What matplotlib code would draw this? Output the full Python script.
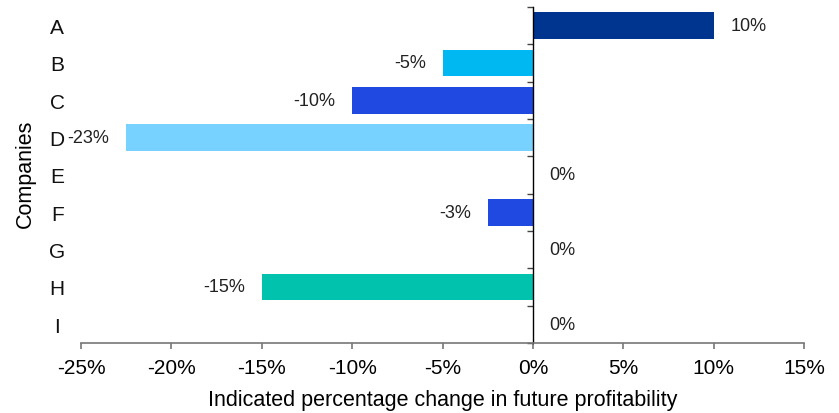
import matplotlib
matplotlib.use("Agg")
import matplotlib.pyplot as plt
import matplotlib.transforms as mtransforms

plt.rcParams['font.family'] = ['Liberation Sans', 'DejaVu Sans']

companies = ['A', 'B', 'C', 'D', 'E', 'F', 'G', 'H', 'I']
values = [10, -5, -10, -22.5, 0, -2.5, 0, -15, 0]
labels = ['10%', '-5%', '-10%', '-23%', '0%', '-3%', '0%', '-15%', '0%']
colors = ['#00358F', '#00B8F1', '#1F49E1', '#77D2FF', '#1F49E1',
          '#1F49E1', '#1F49E1', '#00C2AD', '#1F49E1']
xticks = [-25, -20, -15, -10, -5, 0, 5, 10, 15]

fig = plt.figure(figsize=(8.39, 4.14), dpi=100)
ax = fig.add_axes([81 / 839, 70 / 414, 723 / 839, 336 / 414])

ypos = list(range(len(companies)))
ax.barh(ypos, values, height=0.72, color=colors)

ax.set_xlim(-25, 15)
ax.set_ylim(len(companies) - 0.5, -0.5)

# value labels, offset a fixed number of points from the bar end
for y, v, lab in zip(ypos, values, labels):
    if v >= 0:
        ax.annotate(lab, (v, y), xytext=(12, 0), textcoords='offset points',
                    ha='left', va='center', fontsize=13, color='#222222')
    else:
        ax.annotate(lab, (v, y), xytext=(-12, 0), textcoords='offset points',
                    ha='right', va='center', fontsize=13, color='#222222')

# category labels sit far to the left, away from the spine at zero
trans = mtransforms.blended_transform_factory(ax.transAxes, ax.transData)
for y, c in zip(ypos, companies):
    ax.text(-0.033, y + 0.05, c, transform=trans, ha='center', va='center',
            fontsize=15, color='#111111')

for s in ['top', 'right']:
    ax.spines[s].set_visible(False)
ax.spines['left'].set_position(('data', 0))
ax.spines['left'].set_color('black')
ax.spines['left'].set_linewidth(1.0)
ax.spines['bottom'].set_color('#777777')
ax.spines['bottom'].set_linewidth(1.2)

ax.set_yticks([i - 0.5 for i in range(len(companies) + 1)])
ax.set_yticklabels([])
ax.tick_params(axis='y', direction='out', length=4.5, color='#444444', width=1)

ax.set_xticks(xticks)
ax.set_xticklabels([f'{t}%' for t in xticks], fontsize=15)
ax.tick_params(axis='x', direction='out', length=4.5, color='#777777', width=1.2,
               pad=6)

ax.set_xlabel('Indicated percentage change in future profitability',
              fontsize=15.5, labelpad=9)
fig.text(25 / 839, 1 - 174 / 414, 'Companies', rotation=90, ha='center',
         va='center', fontsize=15.5)

plt.savefig('out.png', dpi=100)
print('Saved: out.png')
